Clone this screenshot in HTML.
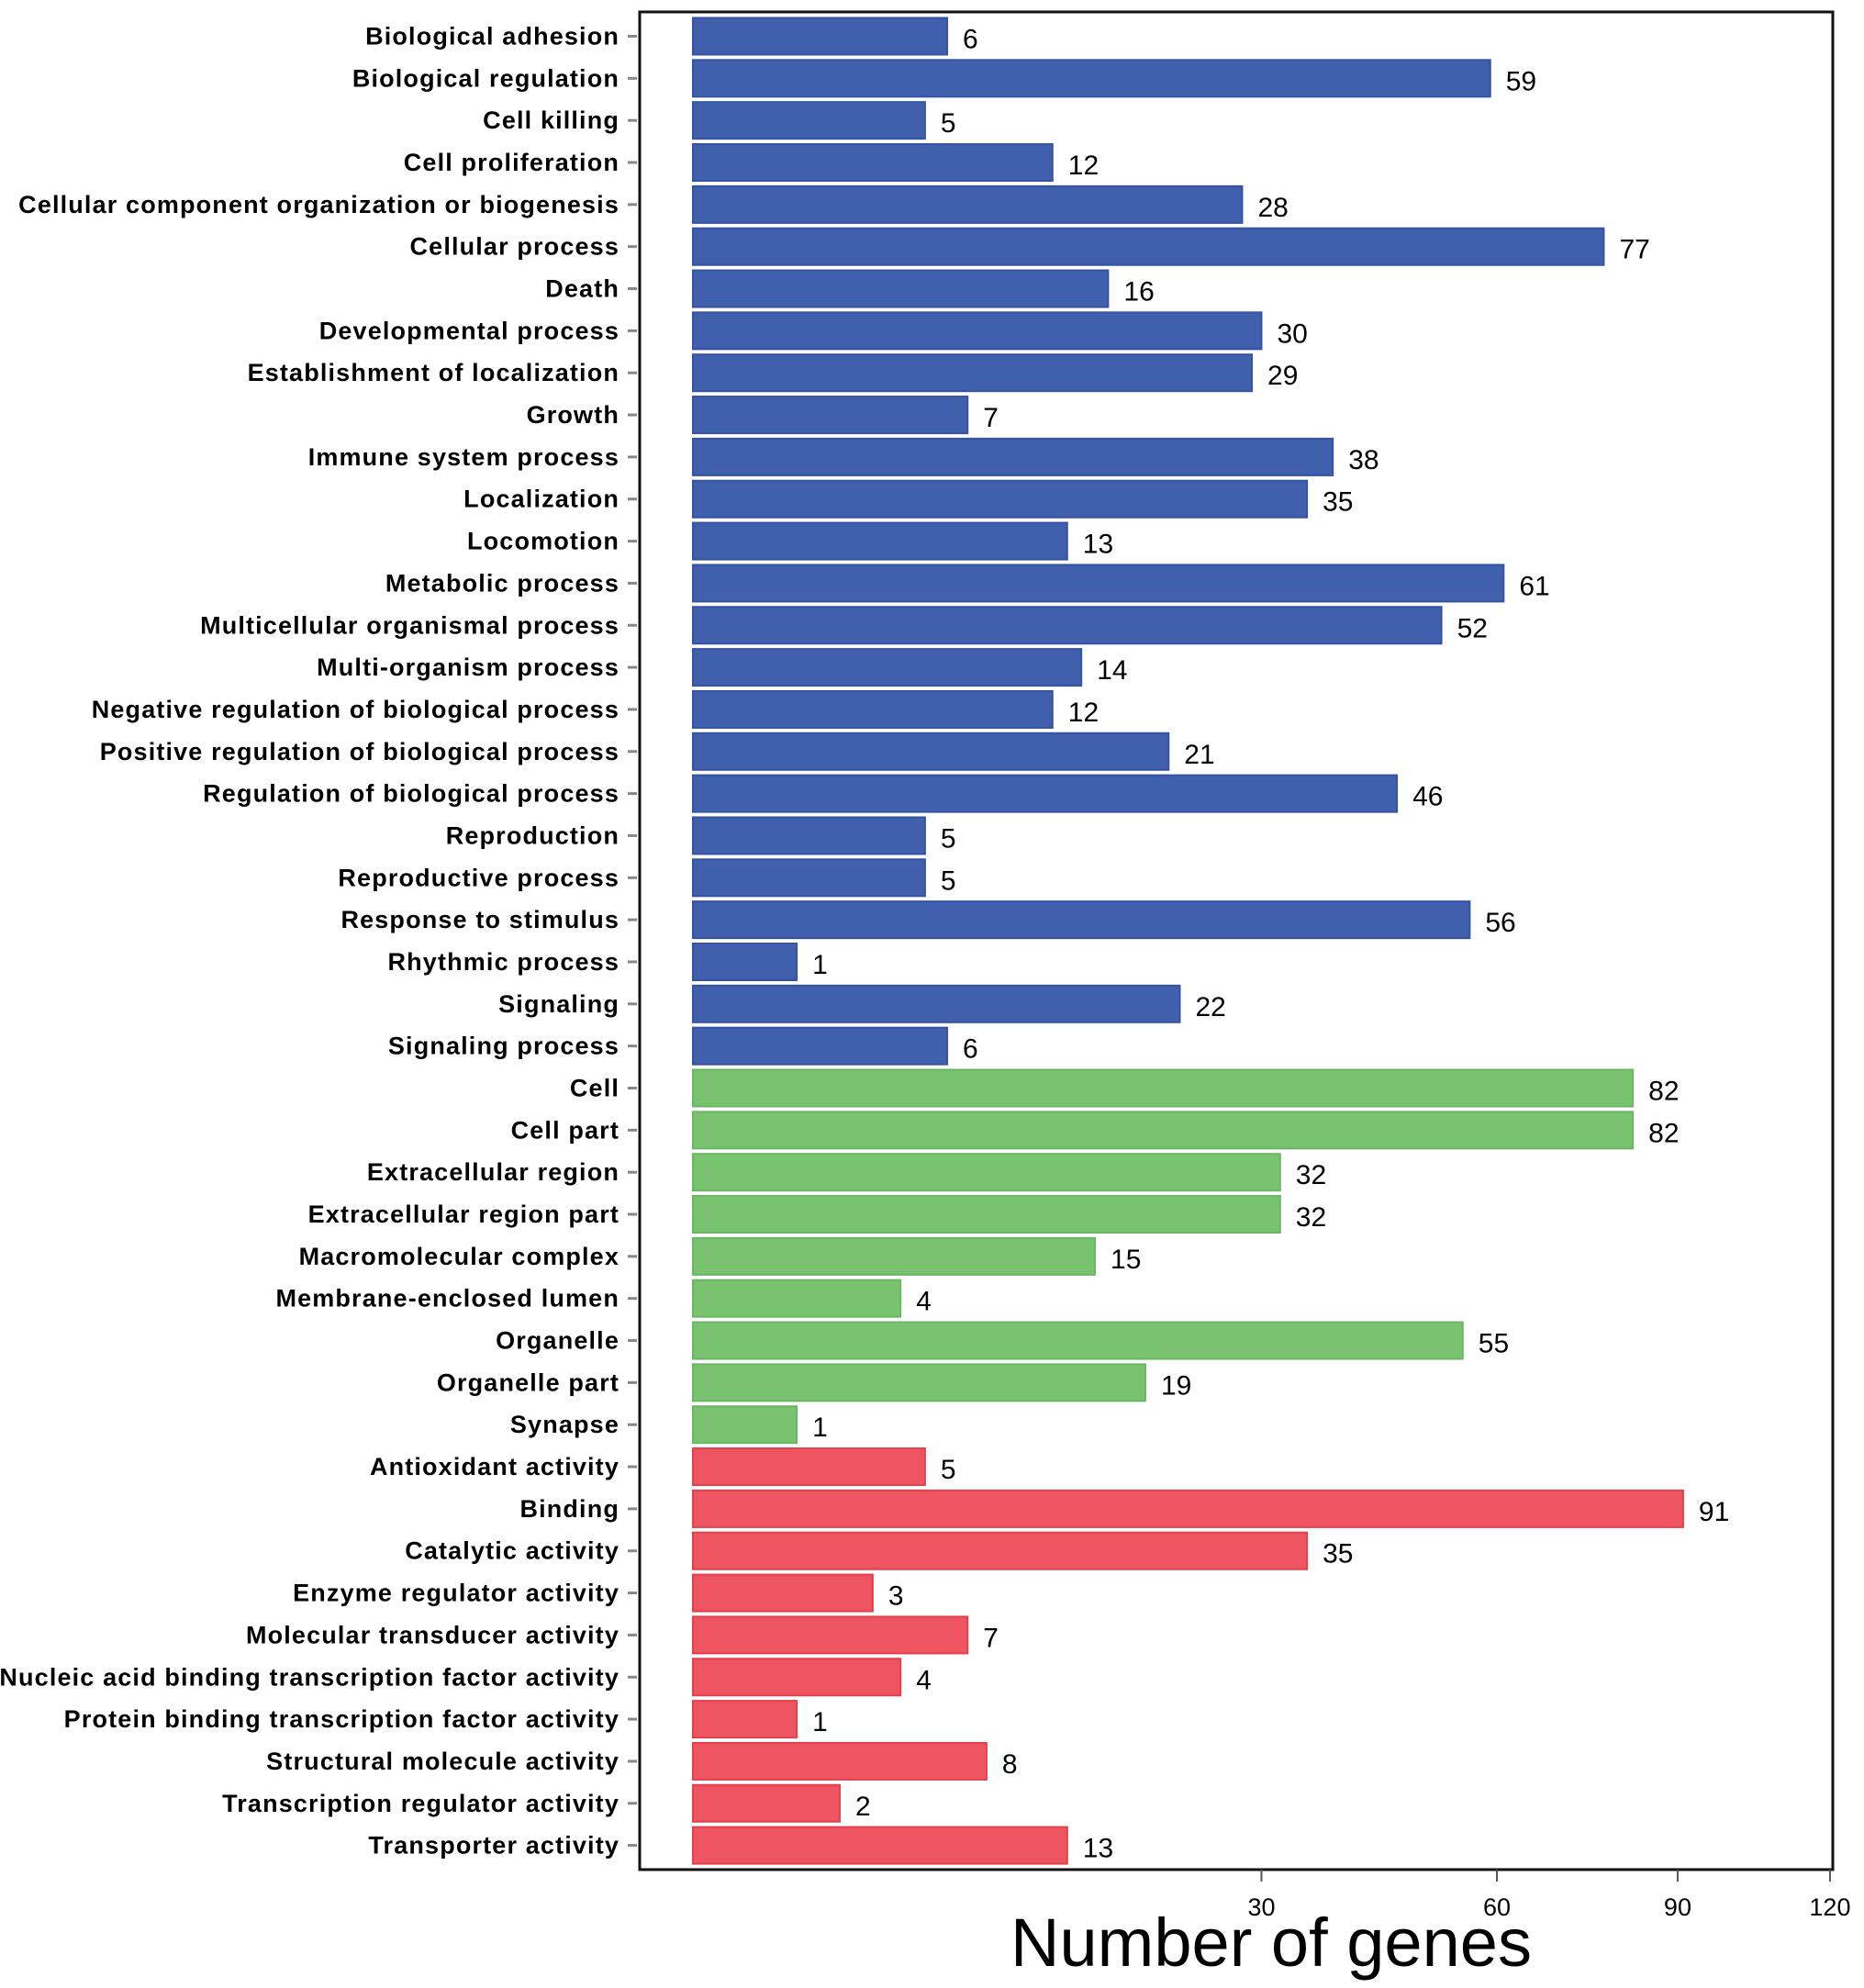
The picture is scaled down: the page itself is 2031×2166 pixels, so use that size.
<!DOCTYPE html>
<html><head><meta charset="utf-8"><style>
html,body{margin:0;padding:0;background:#fff}
svg{display:block}
</style></head><body>
<svg id="chart" width="2031" height="2166" viewBox="0 0 2031 2166" xmlns="http://www.w3.org/2000/svg">
<g id="bars"></g>
<g id="labels"></g>
<rect x="697" y="13" width="1300" height="2024" fill="none" stroke="#111" stroke-width="3"/>
<g id="xaxis"></g>
<text x="1385" y="2142" text-anchor="middle" font-family="Liberation Sans, sans-serif" font-size="74" textLength="568" lengthAdjust="spacingAndGlyphs" fill="#000">Number of genes</text>
</svg>
<script>
const categories = ["Biological adhesion","Biological regulation","Cell killing","Cell proliferation","Cellular component organization or biogenesis","Cellular process","Death","Developmental process","Establishment of localization","Growth","Immune system process","Localization","Locomotion","Metabolic process","Multicellular organismal process","Multi-organism process","Negative regulation of biological process","Positive regulation of biological process","Regulation of biological process","Reproduction","Reproductive process","Response to stimulus","Rhythmic process","Signaling","Signaling process","Cell","Cell part","Extracellular region","Extracellular region part","Macromolecular complex","Membrane-enclosed lumen","Organelle","Organelle part","Synapse","Antioxidant activity","Binding","Catalytic activity","Enzyme regulator activity","Molecular transducer activity","Nucleic acid binding transcription factor activity","Protein binding transcription factor activity","Structural molecule activity","Transcription regulator activity","Transporter activity"];
const values = [6,59,5,12,28,77,16,30,29,7,38,35,13,61,52,14,12,21,46,5,5,56,1,22,6,82,82,32,32,15,4,55,19,1,5,91,35,3,7,4,1,8,2,13];
const groups = ["bp","bp","bp","bp","bp","bp","bp","bp","bp","bp","bp","bp","bp","bp","bp","bp","bp","bp","bp","bp","bp","bp","bp","bp","bp","cc","cc","cc","cc","cc","cc","cc","cc","cc","mf","mf","mf","mf","mf","mf","mf","mf","mf","mf"];
const xTicks = [30,60,90,120];

const NS = "http://www.w3.org/2000/svg";
const colors = {bp:"#4060ae", cc:"#79c26f", mf:"#ef5560"};
const strokes = {bp:"#3553a0", cc:"#6ab761", mf:"#e2404d"};
const x0 = 755, unit = 113.1;
function xScale(v){ return x0 + unit*Math.sqrt(v); }
const yTop = 39.5, pitch = 45.84, barH = 40;
function yScale(i){ return yTop + i*pitch; }

const gb = document.getElementById('bars');
const gl = document.getElementById('labels');
categories.forEach((c,i)=>{
  const cy = yScale(i);
  const r = document.createElementNS(NS,'rect');
  
  
  r.setAttribute('x', x0);
  r.setAttribute('y', cy - barH/2);
  r.setAttribute('width', xScale(values[i]) - x0);
  r.setAttribute('height', barH);
  r.setAttribute('fill', colors[groups[i]]);
  r.setAttribute('stroke', strokes[groups[i]]);
  r.setAttribute('stroke-width', '2');
  gb.appendChild(r);
  const vt = document.createElementNS(NS,'text');
  
  
  vt.setAttribute('x', xScale(values[i]) + 17);
  vt.setAttribute('y', cy + 13);
  vt.setAttribute('font-family', 'Liberation Sans, sans-serif');
  vt.setAttribute('font-size', '30');
  vt.textContent = values[i];
  gb.appendChild(vt);
  const lt = document.createElementNS(NS,'text');
  
  
  lt.setAttribute('x', 675);
  lt.setAttribute('y', cy + 9);
  lt.setAttribute('text-anchor', 'end');
  lt.setAttribute('font-family', 'Liberation Sans, sans-serif');
  lt.setAttribute('font-weight', 'bold');
  lt.setAttribute('font-size', '27');
  lt.setAttribute('letter-spacing', '1.15');
  lt.textContent = c;
  gl.appendChild(lt);
  const tk = document.createElementNS(NS,'line');
  
  
  tk.setAttribute('x1', 684); tk.setAttribute('x2', 694);
  tk.setAttribute('y1', cy); tk.setAttribute('y2', cy);
  tk.setAttribute('stroke', '#888'); tk.setAttribute('stroke-width', '3');
  gl.appendChild(tk);
});
const gx = document.getElementById('xaxis');
xTicks.forEach(t=>{
  const x = xScale(t);
  const l = document.createElementNS(NS,'line');
  
  
  l.setAttribute('x1', x); l.setAttribute('x2', x);
  l.setAttribute('y1', 2037); l.setAttribute('y2', 2050);
  l.setAttribute('stroke', '#555'); l.setAttribute('stroke-width', '2');
  gx.appendChild(l);
  const tt = document.createElementNS(NS,'text');
  
  
  tt.setAttribute('x', x);
  tt.setAttribute('y', 2087);
  tt.setAttribute('text-anchor', 'middle');
  tt.setAttribute('font-family', 'Liberation Sans, sans-serif');
  tt.setAttribute('font-size', '27');
  tt.textContent = t;
  gx.appendChild(tt);
});
</script>
</body></html>
